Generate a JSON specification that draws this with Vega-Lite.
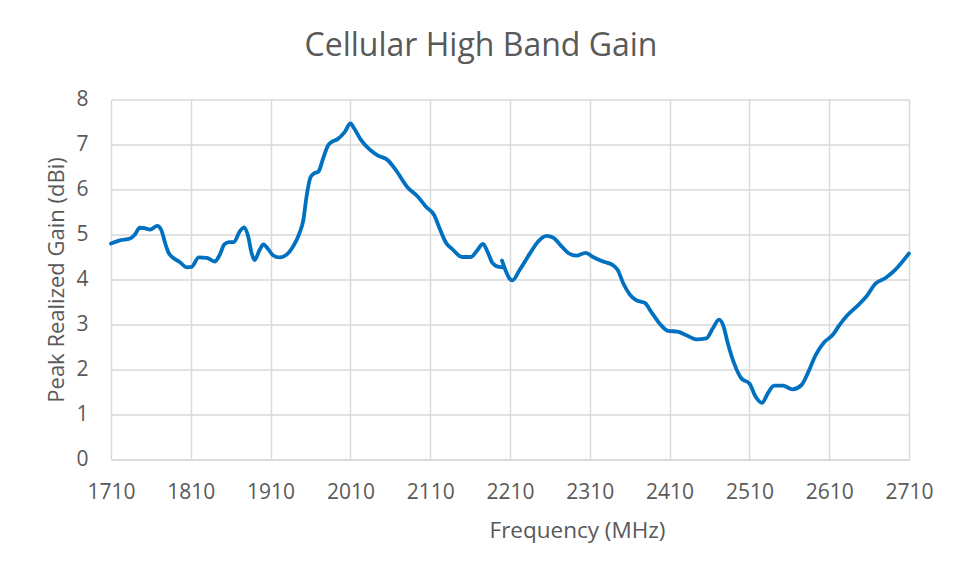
{
  "$schema": "https://vega.github.io/schema/vega-lite/v6.json",
  "autosize": {"type": "none"},
  "width": 798,
  "height": 360,
  "padding": {"left": 111, "top": 99.5, "right": 54, "bottom": 115.5},
  "background": "white",
  "title": {
    "text": "Cellular High Band Gain",
    "font": "Open Sans",
    "fontSize": 32,
    "fontWeight": "normal",
    "color": "#595959",
    "anchor": "middle",
    "dx": -29,
    "offset": 26
  },
  "data": {
    "values": [
      {"seg": "a", "f": 1710, "g": 4.80},
      {"seg": "a", "f": 1721, "g": 4.87},
      {"seg": "a", "f": 1734, "g": 4.91},
      {"seg": "a", "f": 1740, "g": 5.00},
      {"seg": "a", "f": 1746, "g": 5.15},
      {"seg": "a", "f": 1752, "g": 5.14},
      {"seg": "a", "f": 1759, "g": 5.11},
      {"seg": "a", "f": 1768, "g": 5.19},
      {"seg": "a", "f": 1773, "g": 5.10},
      {"seg": "a", "f": 1778, "g": 4.80},
      {"seg": "a", "f": 1782, "g": 4.60},
      {"seg": "a", "f": 1788, "g": 4.48},
      {"seg": "a", "f": 1796, "g": 4.39},
      {"seg": "a", "f": 1805, "g": 4.27},
      {"seg": "a", "f": 1811, "g": 4.28},
      {"seg": "a", "f": 1820, "g": 4.49},
      {"seg": "a", "f": 1830, "g": 4.48},
      {"seg": "a", "f": 1840, "g": 4.40},
      {"seg": "a", "f": 1846, "g": 4.54},
      {"seg": "a", "f": 1852, "g": 4.78},
      {"seg": "a", "f": 1858, "g": 4.83},
      {"seg": "a", "f": 1864, "g": 4.83},
      {"seg": "a", "f": 1871, "g": 5.06},
      {"seg": "a", "f": 1877, "g": 5.16},
      {"seg": "a", "f": 1882, "g": 4.95},
      {"seg": "a", "f": 1886, "g": 4.60},
      {"seg": "a", "f": 1890, "g": 4.43},
      {"seg": "a", "f": 1896, "g": 4.65},
      {"seg": "a", "f": 1901, "g": 4.78},
      {"seg": "a", "f": 1907, "g": 4.67},
      {"seg": "a", "f": 1913, "g": 4.54},
      {"seg": "a", "f": 1921, "g": 4.49},
      {"seg": "a", "f": 1929, "g": 4.54},
      {"seg": "a", "f": 1938, "g": 4.73},
      {"seg": "a", "f": 1946, "g": 5.02},
      {"seg": "a", "f": 1951, "g": 5.32},
      {"seg": "a", "f": 1955, "g": 5.84},
      {"seg": "a", "f": 1960, "g": 6.27},
      {"seg": "a", "f": 1964, "g": 6.35},
      {"seg": "a", "f": 1970, "g": 6.40},
      {"seg": "a", "f": 1976, "g": 6.70},
      {"seg": "a", "f": 1982, "g": 6.98},
      {"seg": "a", "f": 1986, "g": 7.05},
      {"seg": "a", "f": 1994, "g": 7.12},
      {"seg": "a", "f": 2003, "g": 7.28},
      {"seg": "a", "f": 2010, "g": 7.47},
      {"seg": "a", "f": 2015, "g": 7.35},
      {"seg": "a", "f": 2023, "g": 7.11},
      {"seg": "a", "f": 2034, "g": 6.89},
      {"seg": "a", "f": 2044, "g": 6.76},
      {"seg": "a", "f": 2057, "g": 6.65},
      {"seg": "a", "f": 2067, "g": 6.43},
      {"seg": "a", "f": 2082, "g": 6.04},
      {"seg": "a", "f": 2094, "g": 5.85},
      {"seg": "a", "f": 2105, "g": 5.61},
      {"seg": "a", "f": 2115, "g": 5.43},
      {"seg": "a", "f": 2121, "g": 5.17},
      {"seg": "a", "f": 2130, "g": 4.81},
      {"seg": "a", "f": 2138, "g": 4.67},
      {"seg": "a", "f": 2150, "g": 4.50},
      {"seg": "a", "f": 2161, "g": 4.50},
      {"seg": "a", "f": 2169, "g": 4.65},
      {"seg": "a", "f": 2176, "g": 4.79},
      {"seg": "a", "f": 2182, "g": 4.61},
      {"seg": "a", "f": 2188, "g": 4.37},
      {"seg": "a", "f": 2196, "g": 4.28},
      {"seg": "a", "f": 2202, "g": 4.27},
      {"seg": "b", "f": 2200, "g": 4.42},
      {"seg": "b", "f": 2205, "g": 4.18},
      {"seg": "b", "f": 2209, "g": 4.03},
      {"seg": "b", "f": 2213, "g": 3.98},
      {"seg": "b", "f": 2222, "g": 4.21},
      {"seg": "b", "f": 2235, "g": 4.58},
      {"seg": "b", "f": 2245, "g": 4.84},
      {"seg": "b", "f": 2256, "g": 4.97},
      {"seg": "b", "f": 2264, "g": 4.93},
      {"seg": "b", "f": 2275, "g": 4.73},
      {"seg": "b", "f": 2283, "g": 4.59},
      {"seg": "b", "f": 2293, "g": 4.53},
      {"seg": "b", "f": 2305, "g": 4.59},
      {"seg": "b", "f": 2314, "g": 4.50},
      {"seg": "b", "f": 2325, "g": 4.41},
      {"seg": "b", "f": 2339, "g": 4.32},
      {"seg": "b", "f": 2345, "g": 4.21},
      {"seg": "b", "f": 2352, "g": 3.91},
      {"seg": "b", "f": 2360, "g": 3.67},
      {"seg": "b", "f": 2368, "g": 3.54},
      {"seg": "b", "f": 2379, "g": 3.48},
      {"seg": "b", "f": 2387, "g": 3.28},
      {"seg": "b", "f": 2398, "g": 3.01},
      {"seg": "b", "f": 2408, "g": 2.86},
      {"seg": "b", "f": 2420, "g": 2.84},
      {"seg": "b", "f": 2431, "g": 2.76},
      {"seg": "b", "f": 2443, "g": 2.67},
      {"seg": "b", "f": 2456, "g": 2.69},
      {"seg": "b", "f": 2464, "g": 2.91},
      {"seg": "b", "f": 2472, "g": 3.11},
      {"seg": "b", "f": 2477, "g": 2.99},
      {"seg": "b", "f": 2483, "g": 2.58},
      {"seg": "b", "f": 2491, "g": 2.13},
      {"seg": "b", "f": 2500, "g": 1.80},
      {"seg": "b", "f": 2510, "g": 1.69},
      {"seg": "b", "f": 2518, "g": 1.39},
      {"seg": "b", "f": 2526, "g": 1.26},
      {"seg": "b", "f": 2533, "g": 1.47},
      {"seg": "b", "f": 2541, "g": 1.64},
      {"seg": "b", "f": 2552, "g": 1.64},
      {"seg": "b", "f": 2564, "g": 1.56},
      {"seg": "b", "f": 2575, "g": 1.65},
      {"seg": "b", "f": 2583, "g": 1.91},
      {"seg": "b", "f": 2593, "g": 2.32},
      {"seg": "b", "f": 2604, "g": 2.61},
      {"seg": "b", "f": 2614, "g": 2.76},
      {"seg": "b", "f": 2623, "g": 2.99},
      {"seg": "b", "f": 2633, "g": 3.21},
      {"seg": "b", "f": 2645, "g": 3.41},
      {"seg": "b", "f": 2656, "g": 3.61},
      {"seg": "b", "f": 2668, "g": 3.91},
      {"seg": "b", "f": 2681, "g": 4.04},
      {"seg": "b", "f": 2693, "g": 4.22},
      {"seg": "b", "f": 2710, "g": 4.58}
    ]
  },
  "mark": {"type": "line", "color": "#0070C0", "strokeWidth": 3.8, "interpolate": "monotone", "strokeCap": "round", "strokeJoin": "round"},
  "encoding": {
    "x": {
      "field": "f",
      "type": "quantitative",
      "scale": {"domain": [1710, 2710], "nice": false, "zero": false},
      "axis": {
        "title": "Frequency (MHz)",
        "values": [1710, 1810, 1910, 2010, 2110, 2210, 2310, 2410, 2510, 2610, 2710],
        "format": "d",
        "ticks": false,
        "tickSize": 0,
        "labelPadding": 22,
        "labelFlush": false,
        "labelOverlap": false,
        "domainColor": "#D9D9D9",
        "domainWidth": 1.5,
        "gridColor": "#D9D9D9",
        "gridWidth": 1.5,
        "titleX": 466,
        "titleY": 78,
        "titleFontSize": 22.5,
        "titleBaseline": "alphabetic",
        "titleAlign": "center"
      }
    },
    "y": {
      "field": "g",
      "type": "quantitative",
      "scale": {"domain": [0, 8], "nice": false},
      "axis": {
        "title": "Peak Realized Gain (dBi)",
        "values": [0, 1, 2, 3, 4, 5, 6, 7, 8],
        "ticks": false,
        "tickSize": 0,
        "domain": false,
        "labelPadding": 23,
        "gridColor": "#D9D9D9",
        "gridWidth": 1.5,
        "titleX": -48,
        "titleY": 180,
        "titleAngle": 270,
        "titleFontSize": 22,
        "titleBaseline": "alphabetic",
        "titleAlign": "center"
      }
    },
    "detail": {"field": "seg", "type": "nominal"}
  },
  "config": {
    "view": {"stroke": null},
    "axis": {
      "labelFont": "Open Sans",
      "labelFontSize": 21,
      "labelColor": "#595959",
      "titleFont": "Open Sans",
      "titleFontSize": 21,
      "titleFontWeight": "normal",
      "titleColor": "#595959"
    }
  }
}
